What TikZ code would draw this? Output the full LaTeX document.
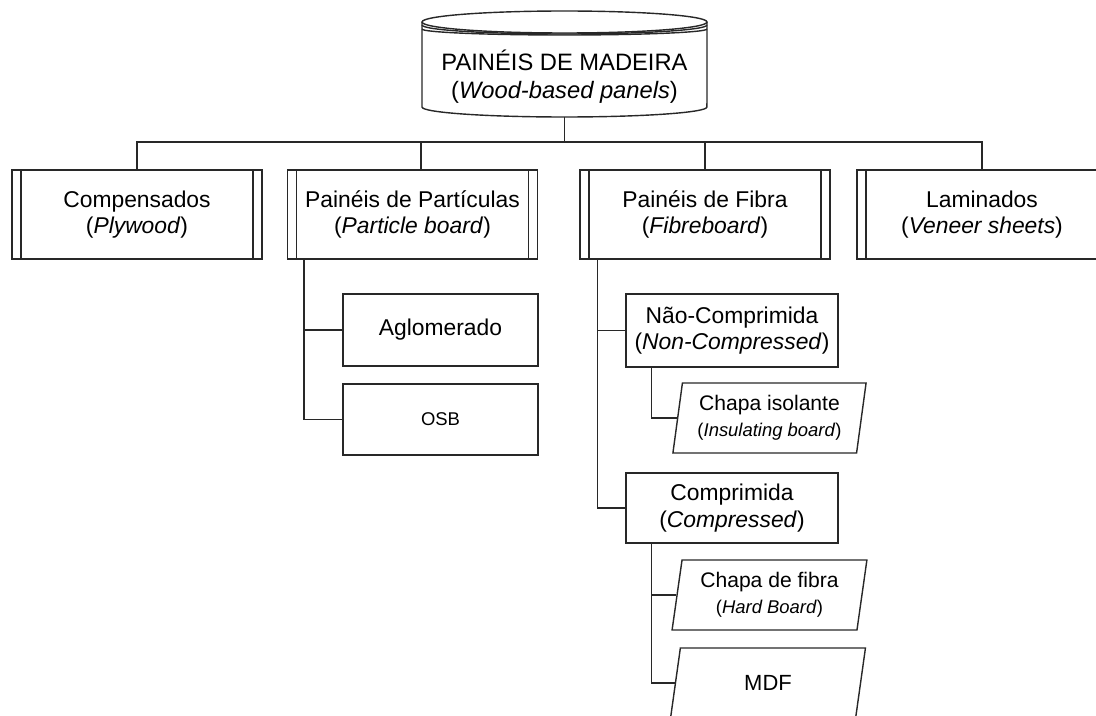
\documentclass[tikz,border=0pt]{standalone}
\usepackage{fontspec}
\setmainfont{Liberation Sans}
\usetikzlibrary{shapes.geometric,positioning}
\definecolor{lnC}{RGB}{40,40,40}
\newcommand{\leafsub}[1]{{\fontsize{10.5}{12}\selectfont(\textit{#1})}}
\tikzset{
  ln/.style={draw=lnC, line width=0.8pt},
  typebox/.style={ln, rectangle, minimum width=5cm, minimum height=1.78cm, inner sep=0pt,
    align=center, font=\fontsize{13}{15.2}\selectfont,
    path picture={\draw[lnC, line width=0.8pt]
      ([xshift=0.18cm]path picture bounding box.north west) -- ([xshift=0.18cm]path picture bounding box.south west)
      ([xshift=-0.18cm]path picture bounding box.north east) -- ([xshift=-0.18cm]path picture bounding box.south east);}},
  subbox/.style={ln, rectangle, inner sep=0pt, align=center, font=\fontsize{13}{15.2}\selectfont},
  leafbox/.style={ln, trapezium, trapezium left angle=80, trapezium right angle=100,
    trapezium stretches=true, minimum width=3.9cm, minimum height=1.4cm, inner sep=0pt,
    align=center, font=\fontsize{12}{14.5}\selectfont}
}
\begin{document}
\begin{tikzpicture}[x=0.02cm, y=-0.02cm]
    \useasboundingbox (0,0) rectangle (1096,716);
    \clip (0,0) rectangle (1096,716);

    \draw[ln] (564.5,22) ellipse [x radius=2.85cm, y radius=0.22cm];
    \draw[ln] (422,25) arc [start angle=180, end angle=360, x radius=2.85cm, y radius=0.18cm];
    \draw[ln] (422,29) arc [start angle=180, end angle=360, x radius=2.85cm, y radius=0.12cm];
    \draw[ln] (422,22) -- (422,107) arc [start angle=180, end angle=360, x radius=2.85cm, y radius=0.2cm] -- (707,22);
    \node[align=center, font=\fontsize{13.5}{15.8}\selectfont] (mad) at (564.5,77)
        {PAINÉIS DE MADEIRA\\(\textit{Wood-based panels})};
    \coordinate (madbase) at (564.5,117);
    \coordinate (bus) at (564.5,142);

    \node[typebox] (comp) at (137,214.5) {Compensados\\(\textit{Plywood})};
    \node[typebox] (part) at (412.5,214.5) {Painéis de Partículas\\(\textit{Particle board})};
    \node[typebox] (fib) at (705,214.5) {Painéis de Fibra\\(\textit{Fibreboard})};
    \node[typebox] (lam) at (982,214.5) {Laminados\\(\textit{Veneer sheets})};

    \node[subbox, minimum width=3.9cm, minimum height=1.44cm] (aglo) at (440.5,330) {Aglomerado};
    \node[subbox, minimum width=3.9cm, minimum height=1.42cm, font=\fontsize{10.5}{12}\selectfont] (osb) at (440.5,419.5) {OSB};

    \node[subbox, minimum width=4.24cm, minimum height=1.46cm] (ncmp) at (732,330.5) {Não-Comprimida\\(\textit{Non-Compressed})};
    \node[subbox, minimum width=4.24cm, minimum height=1.4cm] (cmp) at (732,508) {Comprimida\\(\textit{Compressed})};

    \node[leafbox] (ins) at (769.5,418) {Chapa isolante\\\leafsub{Insulating board}};
    \node[leafbox] (hard) at (769.5,595) {Chapa de fibra\\\leafsub{Hard Board}};
    \node[leafbox, font=\fontsize{12.5}{14}\selectfont] (mdf) at (768,683) {MDF};

    \draw[ln] (madbase) -- (bus);
    \draw[ln] (comp.north) |- (bus) -| (lam.north);
    \draw[ln] ([xshift=0.17cm]part.north) |- (bus);
    \draw[ln] (fib.north) |- (bus);

    \draw[ln] ([xshift=0.34cm]part.south west) |- (aglo.west);
    \draw[ln] ([xshift=0.34cm]part.south west) |- (osb.west);

    \draw[ln] ([xshift=0.36cm]fib.south west) |- (ncmp.west);
    \draw[ln] ([xshift=0.36cm]fib.south west) |- (cmp.west);

    \draw[ln] ([xshift=0.52cm]ncmp.south west) |- (ins.west);
    \draw[ln] ([xshift=0.52cm]cmp.south west) |- (hard.west);
    \draw[ln] ([xshift=0.52cm]cmp.south west) |- (mdf.west);
\end{tikzpicture}
\end{document}
